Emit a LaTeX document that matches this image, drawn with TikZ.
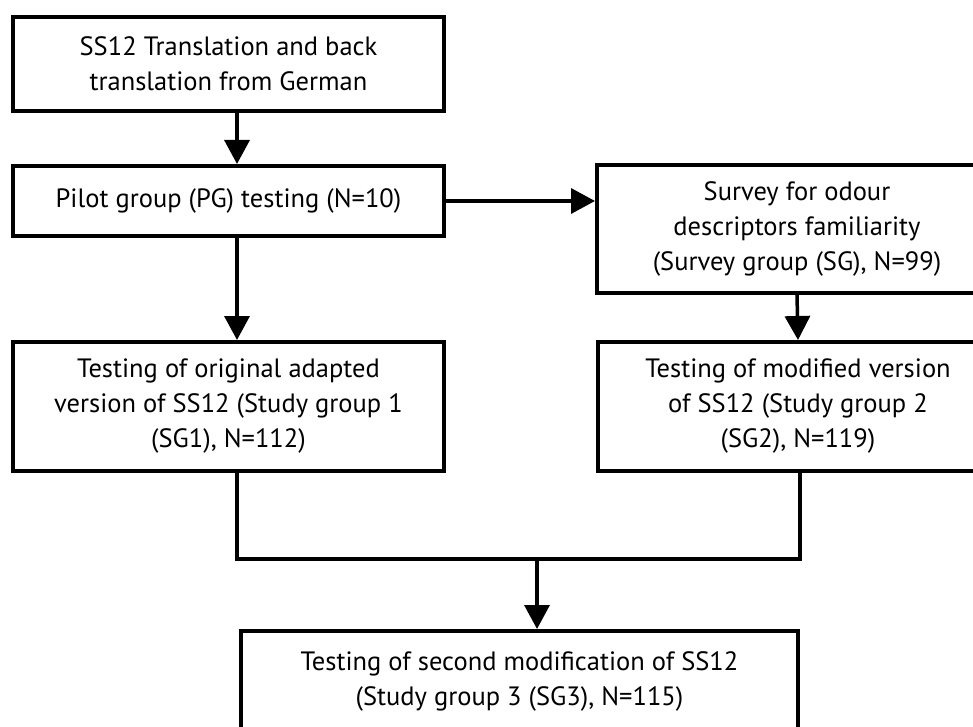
\documentclass[tikz,border=0pt]{standalone}
\usepackage{fontspec}
\setmainfont{PT Sans}
\usetikzlibrary{arrows.meta,calc}
\begin{document}
\begin{tikzpicture}[x=1pt,y=-1pt,
  box/.style={draw=black,line width=4pt,fill=white,inner sep=0pt,outer sep=2pt,align=center,font=\fontsize{26.5}{35}\selectfont},
  conn/.style={line width=3.5pt,draw=black},
  arr/.style={conn,-{Triangle[length=24pt,width=25pt]}}]
\useasboundingbox (0,0) rectangle (973,727);
\fill[white] (0,0) rectangle (973,727);
\clip (0,0) rectangle (973,727);
\node[box,minimum width=431pt,minimum height=94pt] (trans) at (228.5,64) {SS12 Translation and back\\translation from German};
\node[box,minimum width=431pt,minimum height=70pt] (pilot) at (228.5,201) {Pilot group (PG) testing (N=10)};
\node[box,minimum width=400pt,minimum height=128pt] (survey) at (797,229) {Survey for odour\\descriptors familiarity\\(Survey group (SG), N=99)};
\node[box,minimum width=431pt,minimum height=129pt] (test1) at (228.5,406.5) {Testing of original adapted\\version of SS12 (Study group 1\\(SG1), N=112)};
\node[box,minimum width=400pt,minimum height=129pt] (test2) at (798,406.5) {Testing of modified version\\of SS12 (Study group 2\\(SG2), N=119)};
\node[box,minimum width=557pt,minimum height=100pt] (final) at (519.5,681) {Testing of second modification of SS12\\(Study group 3 (SG3), N=115)};
\coordinate (xl) at (237,0);
\coordinate (xr) at (800,0);
\coordinate (ybot) at (0,559);
\coordinate (merge) at (537,559);
\draw[arr] (trans.south -| xl) -- (pilot.north -| xl);
\draw[arr] (pilot.east) -- (pilot.east -| survey.west);
\draw[arr] (pilot.south -| xl) -- (test1.north -| xl);
\draw[arr] (survey.south) -- (test2.north);
\draw[conn] (test1.south -| xl) -- (xl |- ybot) -- (xr |- ybot) -- (test2.south -| xr);
\draw[arr] (merge) -- (final.north -| merge);
\end{tikzpicture}
\end{document}
